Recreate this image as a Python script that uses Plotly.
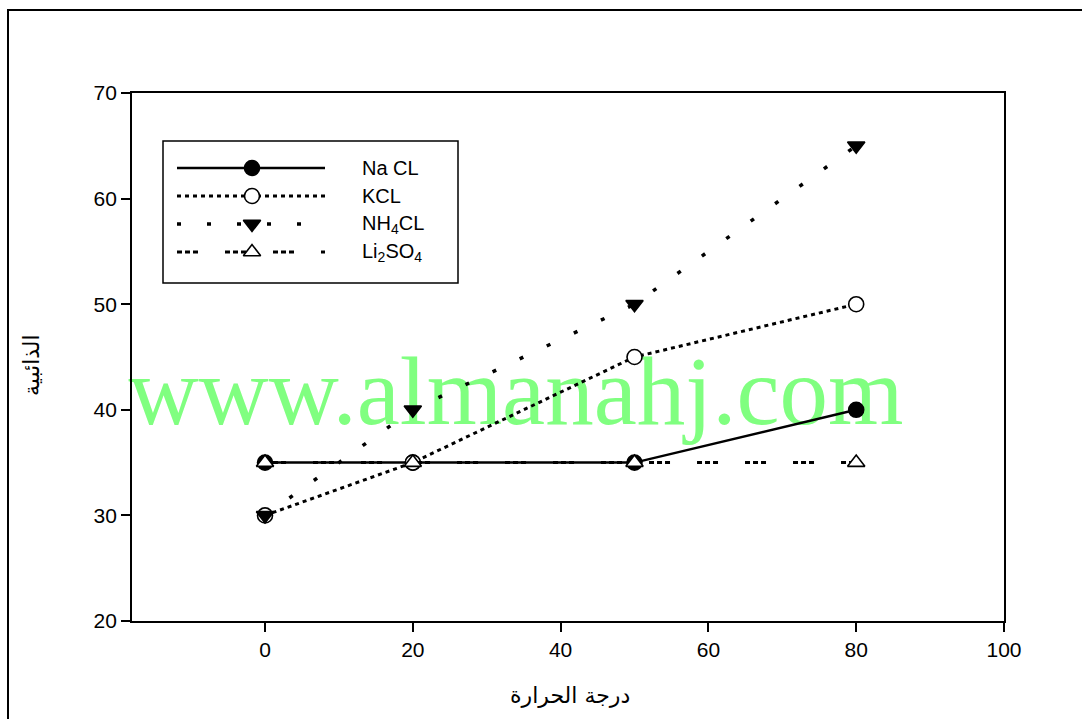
import plotly.graph_objects as go

# ---- data ----
temperature = [0, 20, 50, 80]
na_cl = [35, 35, 35, 40]
kcl = [30, 35, 45, 50]
nh4cl = [30, 40, 50, 65]
li2so4 = [35, 35, 35, 35]

series_names = ["Na CL", "KCL", "NH<sub>4</sub>CL", "Li<sub>2</sub>SO<sub>4</sub>"]
series_values = [na_cl, kcl, nh4cl, li2so4]

x_ticks = [0, 20, 40, 60, 80, 100]
y_ticks = [20, 30, 40, 50, 60, 70]

x_title = "درجة الحرارة"
y_title = "الذائبية"
watermark = "www.almanahj.com"

# ---- styles ----
styles = [
    dict(dash="solid", width=2.5, symbol="circle", fill="black", size=15),
    dict(dash="4px,4px", width=3, symbol="circle", fill="white", size=15),
    dict(dash="4px,26px", width=3.5, symbol="triangle-down", fill="black", size=15),
    dict(dash="5px,3px,5px,3px,5px,27px", width=3, symbol="triangle-up", fill="white", size=15),
]

L, R, T, B = 132, 78, 93, 98
W, H = 1082, 719
PW, PH = W - L - R, H - T - B

fig = go.Figure()

for name, vals, st in zip(series_names, series_values, styles):
    fig.add_trace(go.Scatter(
        x=temperature, y=vals, mode="lines+markers", name=name,
        line=dict(color="black", width=st["width"], dash=st["dash"]),
        marker=dict(symbol=st["symbol"], size=st["size"], color=st["fill"],
                    line=dict(color="black", width=1.6)),
        showlegend=False,
    ))

# ---- manual legend on pixel-space overlay axes ----
leg_line_x0, leg_line_x1, leg_marker_x = 177, 325, 252
leg_row0, leg_step, leg_text_x = 168, 28, 360
for i, (name, st) in enumerate(zip(series_names, styles)):
    yy = leg_row0 + i * leg_step
    fig.add_trace(go.Scatter(
        x=[leg_line_x0, leg_line_x1], y=[yy, yy], mode="lines",
        line=dict(color="black", width=st["width"], dash=st["dash"]),
        xaxis="x2", yaxis="y2", showlegend=False, hoverinfo="skip",
    ))
    fig.add_trace(go.Scatter(
        x=[leg_marker_x], y=[yy], mode="markers",
        marker=dict(symbol=st["symbol"], size=st["size"], color=st["fill"],
                    line=dict(color="black", width=1.6)),
        xaxis="x2", yaxis="y2", showlegend=False, hoverinfo="skip",
    ))
    fig.add_annotation(x=leg_text_x, y=yy, xref="x2", yref="y2", text=name,
                       showarrow=False, xanchor="left", yanchor="middle",
                       font=dict(family="Liberation Sans, Arial", size=20, color="black"))

fig.add_shape(type="rect", xref="x2", yref="y2", x0=163, x1=458, y0=141, y1=283,
              line=dict(color="black", width=1.5), fillcolor="rgba(0,0,0,0)")


def px_x(p):
    return (p - L) / PW


def px_y(p):
    return (H - B - p) / PH


# outer frame
fig.add_shape(type="rect", xref="paper", yref="paper",
              x0=px_x(8), x1=px_x(1100), y0=px_y(740), y1=px_y(10),
              line=dict(color="black", width=2), fillcolor="rgba(0,0,0,0)")

# watermark (below traces)
fig.add_shape(type="rect", xref="paper", yref="paper", layer="below",
              x0=px_x(126), x1=px_x(906), y0=px_y(428), y1=px_y(333),
              line=dict(width=0), fillcolor="rgba(0,0,0,0)",
              label=dict(text=watermark, textposition="middle center",
                         font=dict(family="Liberation Serif, Times New Roman", size=97,
                                   color="#80ff80")))

# axis titles
fig.add_annotation(x=px_x(570), y=px_y(695), xref="paper", yref="paper", text=x_title,
                   showarrow=False, xanchor="center", yanchor="middle",
                   font=dict(family="DejaVu Sans, Liberation Sans", size=22, color="black"))
fig.add_annotation(x=px_x(31), y=px_y(365), xref="paper", yref="paper", text=y_title,
                   showarrow=False, textangle=-90, xanchor="center", yanchor="middle",
                   font=dict(family="DejaVu Sans, Liberation Sans", size=22, color="black"))

axis_common = dict(showline=True, linecolor="black", linewidth=1.8, mirror=True,
                   ticks="outside", ticklen=9, tickwidth=1.6, tickcolor="black",
                   showgrid=False, zeroline=False,
                   tickfont=dict(family="Liberation Sans, Arial", size=21, color="black"))

fig.update_layout(
    width=W, height=H,
    margin=dict(l=L, r=R, t=T, b=B),
    paper_bgcolor="white", plot_bgcolor="white",
    xaxis=dict(range=[-18, 100], tickvals=x_ticks, **axis_common),
    yaxis=dict(range=[20, 70], tickvals=y_ticks, **axis_common),
    xaxis2=dict(overlaying="x", range=[L, L + PW], visible=False, fixedrange=True),
    yaxis2=dict(overlaying="y", range=[H - B, T], visible=False, fixedrange=True),
    showlegend=False,
)

fig.write_html("out.html", config={"displayModeBar": False},
               post_script="document.body.style.margin='0px';")
